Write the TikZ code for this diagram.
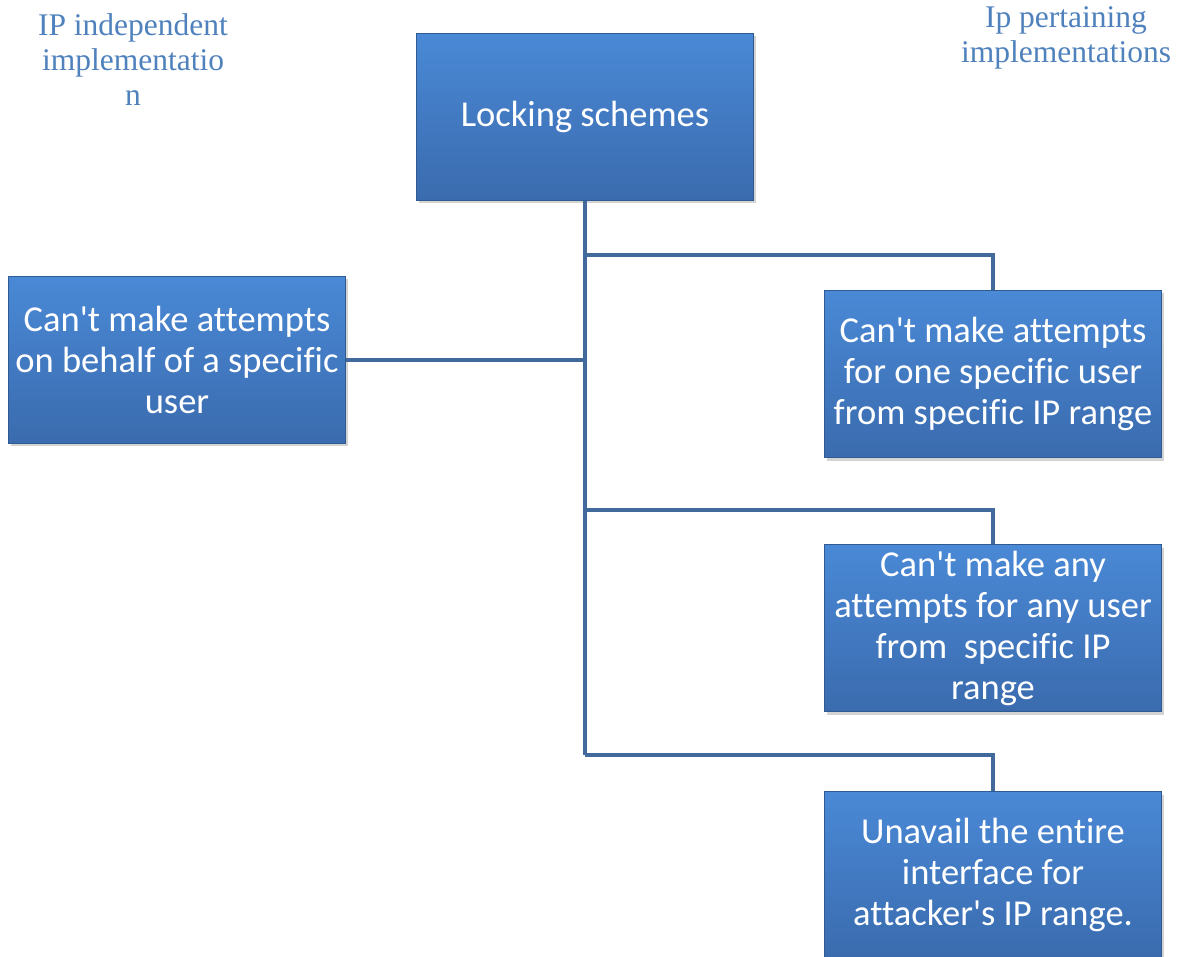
\documentclass[tikz,border=0pt]{standalone}
\usepackage{fontspec}
\newfontfamily\boxfont[Ligatures=NoCommon]{Carlito}
\newfontfamily\notefont{Liberation Serif}
\usetikzlibrary{shadows}

\definecolor{boxtop}{HTML}{4A89D6}
\definecolor{boxbot}{HTML}{3A6BAE}
\definecolor{boxedge}{HTML}{2F5A92}
\definecolor{linkblue}{HTML}{41699C}
\definecolor{noteblue}{HTML}{4F81BD}

\tikzset{
  scheme/.style={rectangle, minimum width=337pt, minimum height=167pt, inner sep=0pt,
    top color=boxtop, bottom color=boxbot, draw=boxedge, line width=0.8pt,
    drop shadow={shadow xshift=2pt, shadow yshift=-3pt, opacity=0.35},
    text=white, align=center, font=\boxfont\fontsize{36.5}{41}\selectfont},
  note/.style={text=noteblue, align=center, font=\notefont\fontsize{31.5}{35}\selectfont},
  link/.style={draw=linkblue, line width=3.5pt},
}

\begin{document}
\begin{tikzpicture}[x=1pt, y=-1pt]

  \useasboundingbox (0,0) rectangle (1181,957);

  \node[note] (indep) at (133,60) {IP independent\\implementatio\\n};
  \node[note] (pert)  at (1066,38) {Ip pertaining\\implementations};

  \node[scheme] (lock) at (585,117) {Locking schemes};
  \node[scheme] (user) at (177,360) {Can't make attempts\\on behalf of a specific\\user};
  \node[scheme] (one)  at (993,374) {Can't make attempts\\for one specific user\\from specific IP range};
  \node[scheme] (any)  at (993,628) {Can't make any\\attempts for any user\\from~ specific IP\\range};
  \node[scheme] (whole) at (993,875) {Unavail the entire\\interface for\\attacker's IP range.};

  %% junctions on the trunk
  \coordinate (j1) at (585,255);
  \coordinate (j2) at (585,510);
  \coordinate (j3) at (585,755);

  \draw[link] (lock.south) -- (j3);
  \draw[link] (j1) -| (one.north);
  \draw[link] (j2) -| (any.north);
  \draw[link] (j3) -| (whole.north);
  \draw[link] (user.east) -- (user.east -| lock.south);

\end{tikzpicture}
\end{document}
